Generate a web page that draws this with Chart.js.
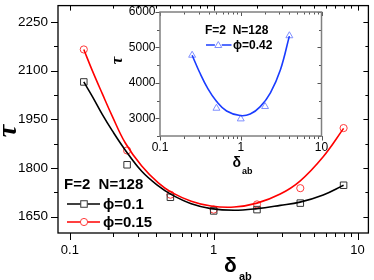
<!DOCTYPE html>
<html><head><meta charset="utf-8">
<script src="https://cdn.jsdelivr.net/npm/chart.js@4.4.0/dist/chart.umd.min.js"></script>
<style>
html,body{margin:0;padding:0;background:#fff;}
#wrap{position:relative;width:374px;height:280px;overflow:hidden;background:#fff;}
#main{position:absolute;left:0;top:0;}
#inset{position:absolute;left:100px;top:0;}
</style></head><body>
<div id="wrap"><canvas id="main" width="374" height="280"></canvas><canvas id="inset" width="240" height="180"></canvas></div>
<script>
// ---- data ----
const delta = [0.125, 0.25, 0.5, 1, 2, 4, 8];
const tauPhi010 = [2065, 1810, 1710, 1668, 1672, 1692, 1747];
const tauPhi015 = [2165, 1854, 1718, 1672, 1688, 1738, 1923];
// fitted curves, points
const fitX = [0.125, 0.1435, 0.168, 0.197, 0.243, 0.316, 0.412, 0.509, 0.698, 0.958, 1.388, 2.0, 2.9, 3.98, 5.77, 8];
const fitY010 = [2065, 2020, 1965, 1915, 1855, 1790, 1745, 1718, 1690, 1675, 1670, 1675, 1685, 1695, 1717, 1747];
const fitY015 = [2165, 2099, 2029, 1960, 1877, 1806, 1754, 1725, 1698, 1683, 1680, 1692, 1720, 1760, 1835, 1922];
// inset
const insetDelta = [0.25, 0.5, 1, 2, 4];
const tauPhi042 = [4780, 3284, 2983, 3332, 5330];
const fitX042 = [0.25, 0.309, 0.393, 0.5, 0.668, 0.98, 1.31, 1.745, 2.33, 3.1, 4];
const fitY042 = [4780, 4300, 3830, 3480, 3205, 3077, 3120, 3330, 3720, 4370, 5320];
// ticks
const mainXTicks = [0.1, 1, 10];
const mainXMinor = [0.2,0.3,0.4,0.5,0.6,0.7,0.8,0.9,2,3,4,5,6,7,8,9];
const mainYTicks = [1650, 1800, 1950, 2100, 2250];
const mainYMinor = [1725, 1875, 2025, 2175];
const insetXTicks = [0.1, 1, 10];
const insetXMinor = [0.2,0.3,0.4,0.5,0.6,0.7,0.8,0.9,2,3,4,5,6,7,8,9];
const insetYTicks = [3000, 4000, 5000, 6000];
const insetYMinor = [2500, 3500, 4500, 5500];

const FONT = "'Liberation Sans', Arial, 'DejaVu Sans', sans-serif";
const pts = (xs, ys) => xs.map((v, i) => ({x: v, y: ys[i]}));

function drawFrame(chart, c) {
  const ctx = chart.ctx, a = chart.chartArea, sx = chart.scales.x, sy = chart.scales.y;
  ctx.save();
  ctx.strokeStyle = c.tickColor; ctx.lineWidth = c.tickWidth;
  const seg = (x1, y1, x2, y2) => { ctx.beginPath(); ctx.moveTo(x1, y1); ctx.lineTo(x2, y2); ctx.stroke(); };
  const xt = (list, out, inn) => list.forEach(v => { const p = Math.round(sx.getPixelForValue(v)) + 0.5; seg(p, a.bottom, p, a.bottom + out); seg(p, a.top, p, a.top + inn); });
  const yt = (list, out, inn) => list.forEach(v => { const p = Math.round(sy.getPixelForValue(v)) + 0.5; seg(a.left, p, a.left - out, p); seg(a.right, p, a.right - inn, p); });
  xt(c.xMajor, c.outMajor, c.inMajor); xt(c.xMinor, c.outMinor, c.inMinor);
  yt(c.yMajor, c.outMajor, c.inMajor); yt(c.yMinor, c.outMinor, c.inMinor);
  ctx.strokeStyle = c.borderColor; ctx.lineWidth = c.borderWidth;
  ctx.strokeRect(a.left, a.top, a.right - a.left, a.bottom - a.top);
  ctx.restore();
  ctx.save(); c.extra(ctx); ctx.restore();
}
function sq(ctx, x, y, s) { ctx.strokeRect(x - s / 2, y - s / 2, s, s); }
function circ(ctx, x, y, r) { ctx.beginPath(); ctx.arc(x, y, r, 0, Math.PI * 2); ctx.stroke(); }
function tri(ctx, x, y, r) { ctx.beginPath(); ctx.moveTo(x, y - r); ctx.lineTo(x + r * 0.87, y + r * 0.5); ctx.lineTo(x - r * 0.87, y + r * 0.5); ctx.closePath(); ctx.stroke(); }

const mainCfg = {
  tickColor: '#000', tickWidth: 1, borderColor: '#000', borderWidth: 1.3,
  xMajor: mainXTicks, xMinor: mainXMinor, yMajor: mainYTicks, yMinor: mainYMinor,
  outMajor: 7, outMinor: 4, inMajor: 5, inMinor: 3,
  extra(ctx) {
    ctx.fillStyle = '#000'; ctx.textBaseline = 'middle'; ctx.textAlign = 'left';
    ctx.font = 'bold 15px ' + FONT;
    ctx.fillText('F=2  N=128', 64, 185);
    ctx.lineWidth = 1.5; ctx.strokeStyle = '#000';
    ctx.beginPath(); ctx.moveTo(67, 204); ctx.lineTo(100, 204); ctx.stroke();
    ctx.fillStyle = '#fff'; ctx.fillRect(80.5, 200.5, 7, 7);
    ctx.lineWidth = 1; ctx.strokeStyle = '#333'; sq(ctx, 84, 204, 6.5);
    ctx.fillStyle = '#000'; ctx.fillText('ϕ=0.1', 103, 205);
    ctx.lineWidth = 1.5; ctx.strokeStyle = '#ff0000';
    ctx.beginPath(); ctx.moveTo(67, 222); ctx.lineTo(100, 222); ctx.stroke();
    ctx.fillStyle = '#fff'; ctx.beginPath(); ctx.arc(84, 222, 3.6, 0, 7); ctx.fill();
    ctx.lineWidth = 1; ctx.strokeStyle = '#ff3b3b'; circ(ctx, 84, 222, 3.6);
    ctx.fillStyle = '#000'; ctx.fillText('ϕ=0.15', 103, 223);
    // axis titles
    ctx.save(); ctx.translate(9, 131); ctx.rotate(-Math.PI / 2);
    ctx.textAlign = 'center'; ctx.font = "bold italic 28px 'Liberation Serif', serif";
    ctx.fillText('τ', 0, 0); ctx.restore();
    ctx.textBaseline = 'alphabetic'; ctx.textAlign = 'left';
    ctx.font = 'bold 21px ' + FONT; ctx.fillText('δ', 224, 272);
    ctx.font = 'bold 11px ' + FONT; ctx.fillText('ab', 239, 280);
  }
};

const insetCfg = {
  tickColor: '#555', tickWidth: 1, borderColor: '#808080', borderWidth: 1.5,
  xMajor: insetXTicks, xMinor: insetXMinor, yMajor: insetYTicks, yMinor: insetYMinor,
  outMajor: 4.5, outMinor: 3, inMajor: 4, inMinor: 2.5,
  extra(ctx) {
    ctx.fillStyle = '#000'; ctx.textBaseline = 'middle'; ctx.textAlign = 'left';
    ctx.font = 'bold 12px ' + FONT;
    ctx.fillText('F=2  N=128', 105, 31);
    ctx.lineWidth = 1.5; ctx.strokeStyle = '#1a3cff';
    ctx.beginPath(); ctx.moveTo(106, 45); ctx.lineTo(131.5, 45); ctx.stroke();
    ctx.fillStyle = '#fff'; ctx.beginPath(); ctx.arc(118.3, 45, 3.5, 0, 7); ctx.fill();
    ctx.lineWidth = 1; ctx.strokeStyle = '#7f8fff'; tri(ctx, 118.3, 45.5, 4);
    ctx.fillStyle = '#000'; ctx.fillText('ϕ=0.42', 133, 46);
    ctx.save(); ctx.translate(18, 60.5); ctx.rotate(-Math.PI / 2);
    ctx.textAlign = 'center'; ctx.font = "bold italic 17px 'Liberation Serif', serif";
    ctx.fillText('τ', 0, 0); ctx.restore();
    ctx.textBaseline = 'alphabetic';
    ctx.font = 'bold 14px ' + FONT; ctx.fillText('δ', 132.5, 166.5);
    ctx.font = 'bold 9px ' + FONT; ctx.fillText('ab', 142, 174);
  }
};

const mainPlugin = { id: 'mainFrame', afterDraw(chart) { drawFrame(chart, mainCfg); } };
const insetPlugin = {
  id: 'insetFrame',
  beforeDatasetsDraw(chart) { const a = chart.chartArea, ctx = chart.ctx; ctx.save(); ctx.fillStyle = '#fff'; ctx.fillRect(a.left, a.top, a.right - a.left, a.bottom - a.top); ctx.restore(); },
  afterDraw(chart) { drawFrame(chart, insetCfg); }
};

function scaleX(min, max, ticks, h, fontSize, pad) {
  return {
    type: 'logarithmic', min: min, max: max,
    grid: { display: false, drawTicks: false }, border: { display: false },
    afterBuildTicks: s => { s.ticks = ticks.map(v => ({ value: v })); },
    ticks: { autoSkip: false, maxRotation: 0, color: '#000', padding: pad,
      font: { family: FONT, size: fontSize }, callback: v => String(v) },
    afterFit: s => { s.height = h; s.paddingLeft = 0; s.paddingRight = 0; }
  };
}
function scaleY(min, max, ticks, w, fontSize, pad) {
  return {
    type: 'linear', min: min, max: max,
    grid: { display: false, drawTicks: false }, border: { display: false },
    afterBuildTicks: s => { s.ticks = ticks.map(v => ({ value: v })); },
    ticks: { autoSkip: false, color: '#000', padding: pad,
      font: { family: FONT, size: fontSize }, callback: v => String(v) },
    afterFit: s => { s.width = w; s.paddingTop = 0; s.paddingBottom = 0; }
  };
}
const common = { responsive: false, animation: false, devicePixelRatio: 1,
  plugins: { legend: { display: false }, tooltip: { enabled: false } } };

new Chart(document.getElementById('main'), {
  type: 'scatter',
  data: { datasets: [
    { data: pts(fitX, fitY010), showLine: true, borderColor: '#000', borderWidth: 1.6, pointRadius: 0, tension: 0.4 },
    { data: pts(fitX, fitY015), showLine: true, borderColor: '#ff0000', borderWidth: 1.6, pointRadius: 0, tension: 0.4 },
    { data: pts(delta, tauPhi010), showLine: false, pointStyle: 'rect', pointRadius: 4.6, borderColor: '#333', borderWidth: 1, backgroundColor: 'rgba(0,0,0,0)' },
    { data: pts(delta, tauPhi015), showLine: false, pointStyle: 'circle', pointRadius: 3.6, borderColor: '#ff3b3b', borderWidth: 1, backgroundColor: 'rgba(0,0,0,0)' }
  ] },
  options: Object.assign({}, common, {
    layout: { padding: { top: 1, right: 2, left: 0, bottom: 0 } },
    scales: { x: scaleX(0.0827, 11.9, mainXTicks, 47, 13, 10), y: scaleY(1600, 2300, mainYTicks, 58, 13.5, 10) }
  }),
  plugins: [mainPlugin]
});

new Chart(document.getElementById('inset'), {
  type: 'scatter',
  data: { datasets: [
    { data: pts(fitX042, fitY042), showLine: true, borderColor: '#1a3cff', borderWidth: 1.6, pointRadius: 0, tension: 0.4 },
    { data: pts(insetDelta, tauPhi042), showLine: false, pointStyle: 'triangle', pointRadius: 4, borderColor: '#7f8fff', borderWidth: 1, backgroundColor: 'rgba(0,0,0,0)' }
  ] },
  options: Object.assign({}, common, {
    layout: { padding: { top: 12, right: 18.5, left: 0, bottom: 0 } },
    scales: { x: scaleX(0.1, 10, insetXTicks, 44, 12, 4), y: scaleY(2500, 6000, insetYTicks, 60, 12, 4.5) }
  }),
  plugins: [insetPlugin]
});
</script>
</body></html>
